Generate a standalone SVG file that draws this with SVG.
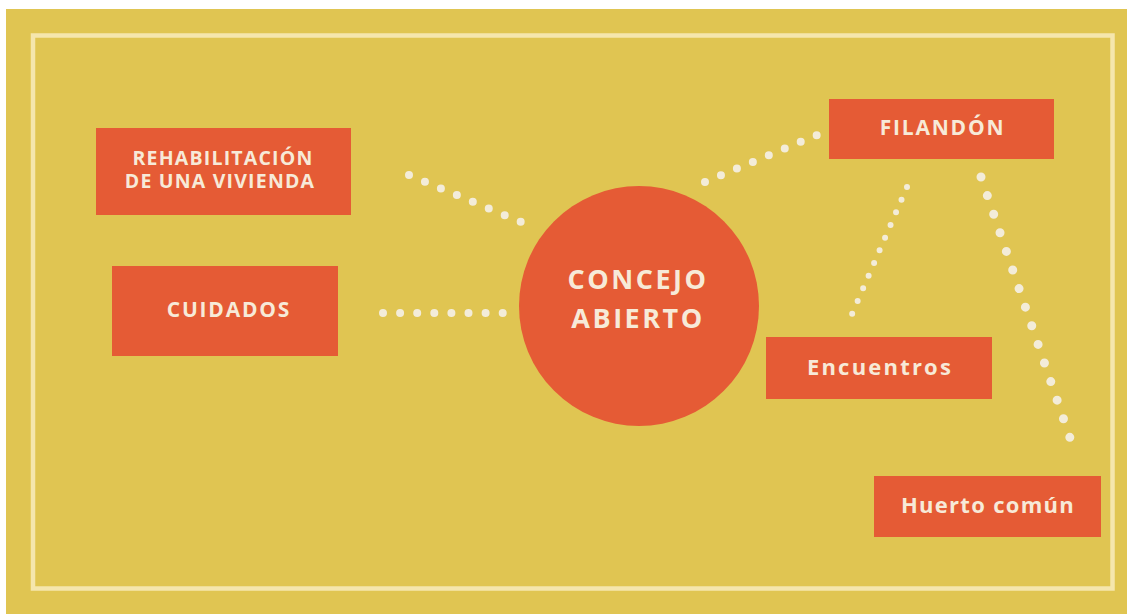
<svg xmlns="http://www.w3.org/2000/svg" width="1127" height="614" viewBox="0 0 1127 614">
<style>
.box{fill:#e55b35}
.lbl{font-family:"Open Sans","Liberation Sans",sans-serif;font-weight:bold;fill:#f7ead8;text-anchor:middle}
.b{font-size:27px;letter-spacing:2.5px}
.dot{stroke:#f3ecd9;stroke-linecap:round;fill:none}
</style>
<rect x="0" y="0" width="1127" height="614" fill="#ffffff"/>
<rect x="6" y="9" width="1121" height="605" fill="#e0c552"/>
<rect x="33" y="35.5" width="1079.5" height="553" fill="none" stroke="#f5e6ad" stroke-width="4.5"/>
<g id="connectors">
<line class="dot" x1="409" y1="175" x2="521.5" y2="222.2" stroke-width="8" stroke-dasharray="0 17.3"/>
<line class="dot" x1="383" y1="313" x2="503.5" y2="313" stroke-width="8" stroke-dasharray="0 17.1"/>
<line class="dot" x1="705" y1="182" x2="817.5" y2="134.8" stroke-width="8" stroke-dasharray="0 17.3"/>
<line class="dot" x1="907" y1="187" x2="851.8" y2="314.5" stroke-width="6" stroke-dasharray="0 13.8"/>
<line class="dot" x1="981" y1="177" x2="1070.2" y2="438.5" stroke-width="9" stroke-dasharray="0 19.65"/>
</g>
<g id="rehabilitacion">
<rect class="box" x="96" y="128" width="255" height="87"/>
<text class="lbl" x="223" y="164.5" font-size="19.5" letter-spacing="1.2">REHABILITACIÓN</text>
<text class="lbl" x="220" y="188" font-size="19.5" letter-spacing="1.2">DE UNA VIVIENDA</text>
</g>
<g id="cuidados">
<rect class="box" x="112" y="266" width="226" height="90"/>
<text class="lbl" x="229" y="317" font-size="21" letter-spacing="1.8">CUIDADOS</text>
</g>
<g id="concejo">
<circle class="box" cx="639" cy="306" r="120"/>
<text class="lbl b" x="638" y="289">CONCEJO</text>
<text class="lbl b" x="638" y="328">ABIERTO</text>
</g>
<g id="filandon">
<rect class="box" x="829" y="99" width="225" height="60"/>
<text class="lbl" x="942.5" y="135" font-size="21" letter-spacing="1.8">FILANDÓN</text>
</g>
<g id="encuentros">
<rect class="box" x="766" y="337" width="226" height="62"/>
<text class="lbl" x="880" y="375" font-size="22" letter-spacing="2.2">Encuentros</text>
</g>
<g id="huerto">
<rect class="box" x="874" y="476" width="227" height="61"/>
<text class="lbl" x="988" y="513" font-size="22" letter-spacing="1.3">Huerto común</text>
</g>
</svg>
